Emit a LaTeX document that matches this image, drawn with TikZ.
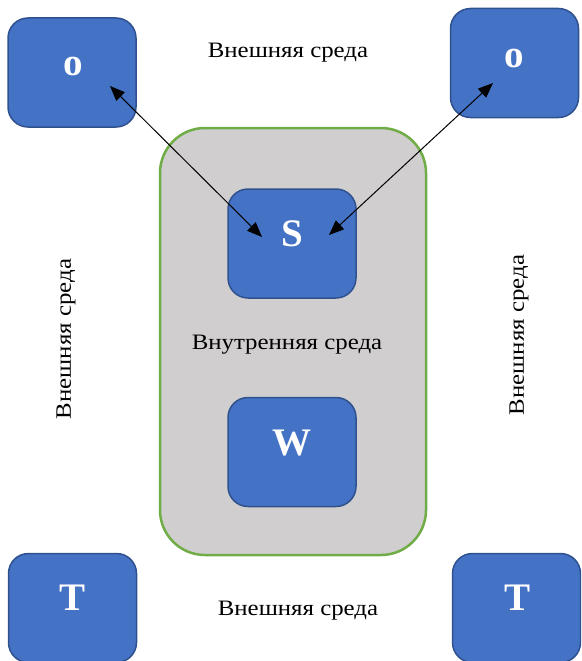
\documentclass[tikz,border=0pt]{standalone}
\usepackage{fontspec}
\setmainfont{Liberation Serif}
\newfontfamily\labelfont{Liberation Serif}[FakeStretch=1.13]
\usetikzlibrary{arrows.meta}
\definecolor{boxblue}{HTML}{4472C4}
\definecolor{boxedge}{HTML}{2F528F}
\definecolor{envgray}{HTML}{D0CECE}
\definecolor{envgreen}{HTML}{70AD47}
\begin{document}
\begin{tikzpicture}[x=1pt,y=-1pt,
  bluebox/.style={draw=boxedge, fill=boxblue, line width=1.5pt, rounded corners=20pt,
    minimum width=128pt, minimum height=109pt, inner sep=0pt},
  letter/.style={text=white, font=\fontsize{39}{41}\selectfont\bfseries, anchor=base, inner sep=0pt},
  envtext/.style={font=\labelfont\fontsize{22}{26}\selectfont, inner sep=0pt},
  link/.style={line width=1pt, {Triangle[length=15pt,width=12pt]}-{Triangle[length=15pt,width=12pt]}}]
\useasboundingbox (0,0) rectangle (581,661);
\begin{scope}
\clip (0,0) rectangle (581,661);
\node[draw=envgreen, fill=envgray, line width=2.5pt, rounded corners=45pt,
  minimum width=266pt, minimum height=427pt, inner sep=0pt] (inner) at (293,341.5) {};
\node[bluebox] (oL) at (72,72.5) {};
\node[bluebox] (oR) at (514.5,63) {};
\node[bluebox] (sB) at (292,243.5) {};
\node[bluebox] (wB) at (292,452) {};
\node[bluebox] (tL) at (72.5,608) {};
\node[bluebox] (tR) at (516.5,608) {};
\node[letter] (oLt) at (73,76) {o};
\node[letter] (oRt) at (514,67) {o};
\node[letter] (sBt) at (292,246) {S};
\node[letter] (wBt) at (292,455) {W};
\node[letter] (tLt) at (73,610) {T};
\node[letter] (tRt) at (517,610) {T};
\node[envtext] (topTxt) at (288,53) {Внешняя среда};
\node[envtext] (midTxt) at (287,345) {Внутренняя среда};
\node[envtext] (botTxt) at (298,611) {Внешняя среда};
\node[envtext, rotate=90] (leftTxt) at (66,339) {Внешняя среда};
\node[envtext, rotate=90] (rightTxt) at (519,335) {Внешняя среда};
\coordinate (pL) at (110,86);
\coordinate (sL) at (262,237);
\coordinate (pR) at (493,83);
\coordinate (sR) at (329,235);
\draw[link] (sL) -- (pL);
\draw[link] (sR) -- (pR);
\end{scope}
\end{tikzpicture}
\end{document}
